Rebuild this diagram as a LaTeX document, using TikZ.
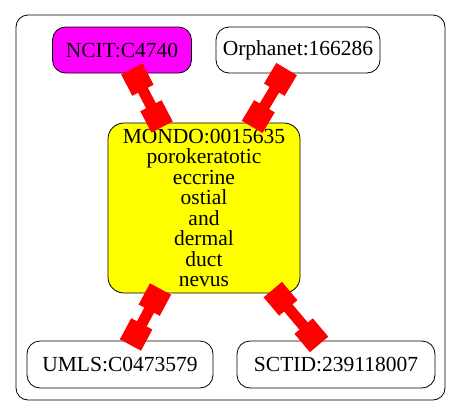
\documentclass[tikz,border=0pt]{standalone}
\usepackage{fontspec}
\setmainfont{Liberation Serif}
\usetikzlibrary{arrows.meta}
\definecolor{gvmagenta}{RGB}{255,0,255}
\definecolor{gvyellow}{RGB}{255,255,0}
\definecolor{gvred}{RGB}{255,0,0}
\begin{document}
\begin{tikzpicture}[x=1pt,y=-1pt,
  nd/.style={draw=black, line width=0.8pt, rounded corners=13pt, align=center,
    font=\fontsize{21.5}{20.5}\selectfont, inner sep=0pt},
  lnk/.style={draw=gvred, line width=11pt,
    {Square[length=24pt,width=24pt]}-{Square[length=24pt,width=24pt]},
    shorten <=-5pt, shorten >=-5pt}]
\useasboundingbox (0,0) rectangle (461,416);
\node[draw=black, line width=0.8pt, rounded corners=12pt, minimum width=429pt,
  minimum height=385pt, inner sep=0pt] (cluster) at (230.5,207.5) {};
\node[nd, fill=gvmagenta, minimum width=139pt, minimum height=46pt] (ncit) at (122,50) {NCIT:C4740};
\node[nd, fill=white, minimum width=164pt, minimum height=46pt] (orpha) at (298,50) {Orphanet:166286};
\node[nd, fill=gvyellow, rounded corners=16pt, minimum width=192pt, minimum height=170pt] (mondo) at (204,208)
  {MONDO:0015635\\porokeratotic\\eccrine\\ostial\\and\\dermal\\duct\\nevus};
\node[nd, fill=white, minimum width=186pt, minimum height=47pt] (umls) at (120,364.5) {UMLS:C0473579};
\node[nd, fill=white, minimum width=198pt, minimum height=47pt] (sctid) at (336,364.5) {SCTID:239118007};
\draw[lnk] (ncit) -- (mondo);
\draw[lnk] (orpha) -- (mondo);
\draw[lnk] (mondo) -- (umls);
\draw[lnk] (mondo) -- (sctid);
\end{tikzpicture}
\end{document}
